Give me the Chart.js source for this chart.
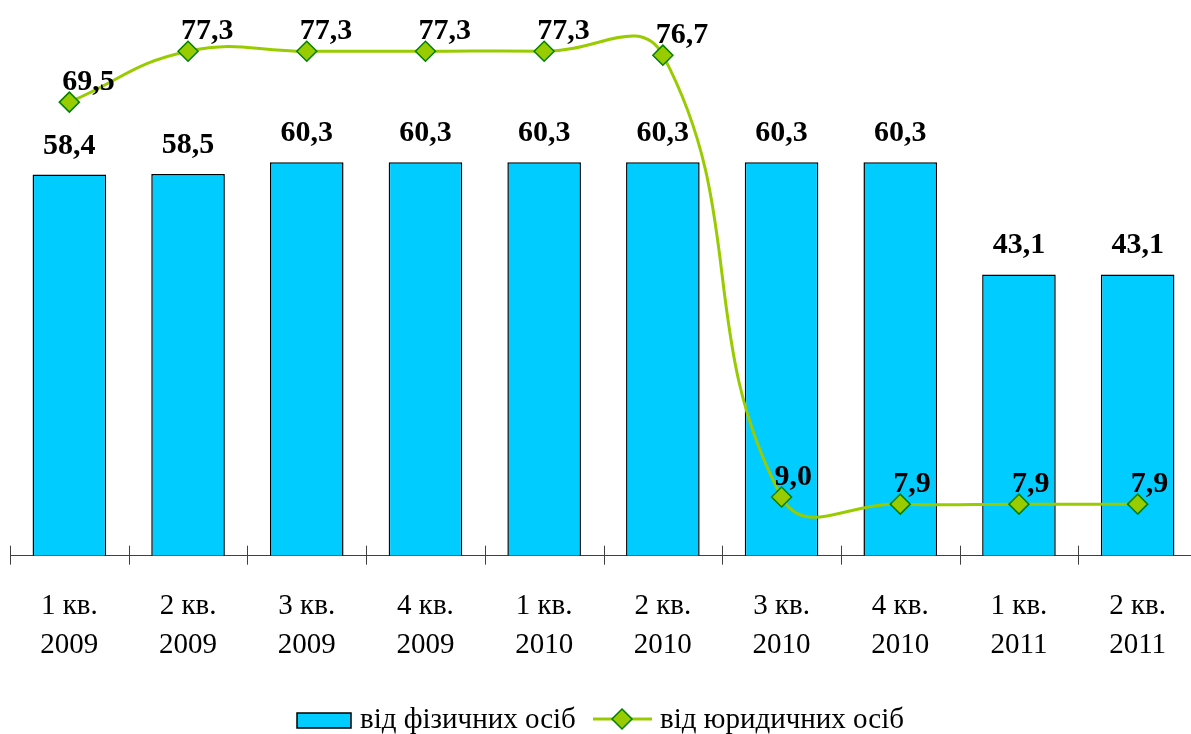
<!DOCTYPE html>
<html>
<head>
<meta charset="utf-8">
<script src="https://cdn.jsdelivr.net/npm/chart.js@4/dist/chart.umd.min.js"></script>
<style>
html,body{margin:0;padding:0;background:#fff;overflow:hidden;}
#wrap{width:1200px;height:734px;position:relative;}
</style>
</head>
<body>
<div id="wrap"><canvas id="c" width="1200" height="734"></canvas></div>
<script>
const quarters = ["1 кв.","2 кв.","3 кв.","4 кв.","1 кв.","2 кв.","3 кв.","4 кв.","1 кв.","2 кв."];
const years = ["2009","2009","2009","2009","2010","2010","2010","2010","2011","2011"];
const fizValues = [58.4,58.5,60.3,60.3,60.3,60.3,60.3,60.3,43.1,43.1];
const yurValues = [69.5,77.3,77.3,77.3,77.3,76.7,9.0,7.9,7.9,7.9];
const seriesNames = ["від фізичних осіб","від юридичних осіб"];

const labels = quarters.map((q,i)=>[q, years[i]]);
const fmt = v => v.toFixed(1).replace('.', ',');
const SERIF = "'Liberation Serif', 'Times New Roman', serif";

const labelPlugin = {
  id: 'valueLabels',
  afterDatasetsDraw(chart){
    const ctx = chart.ctx;
    ctx.save();
    ctx.fillStyle = '#000';
    ctx.font = "bold 30px " + SERIF;
    ctx.textBaseline='alphabetic';
    const barMeta = chart.getDatasetMeta(0);
    barMeta.data.forEach((el,i)=>{
      ctx.textAlign='center';
      ctx.fillText(fmt(fizValues[i]), el.x, el.y - 21);
    });
    const lineMeta = chart.getDatasetMeta(1);
    lineMeta.data.forEach((el,i)=>{
      ctx.textAlign='left';
      ctx.fillText(fmt(yurValues[i]), el.x - 7, el.y - 12);
    });
    ctx.restore();
  },
  afterDraw(chart){
    const ctx = chart.ctx;
    const xs = chart.scales.x;
    const yBottom = chart.chartArea.bottom;
    ctx.save();
    ctx.strokeStyle = '#404040';
    ctx.lineWidth = 1;
    for (let i=0;i<=labels.length;i++){
      const x = Math.round(xs.getPixelForValue(i-0.5))+0.5;
      ctx.beginPath();
      ctx.moveTo(x, yBottom-10);
      ctx.lineTo(x, yBottom+9);
      ctx.stroke();
    }
    // legend
    ctx.fillStyle = '#00CCFF';
    ctx.strokeStyle = '#000';
    ctx.lineWidth = 1.5;
    ctx.fillRect(297, 713, 54, 15);
    ctx.strokeRect(297, 713, 54, 15);
    ctx.fillStyle = '#000';
    ctx.font = "29px " + SERIF;
    ctx.textAlign = 'left'; ctx.textBaseline = 'alphabetic';
    ctx.fillText(seriesNames[0], 360, 728);
    ctx.strokeStyle = '#99CC00';
    ctx.lineWidth = 3;
    ctx.beginPath(); ctx.moveTo(593, 719); ctx.lineTo(652, 719); ctx.stroke();
    ctx.fillStyle = '#99CC00';
    ctx.strokeStyle = '#008000';
    ctx.lineWidth = 1.5;
    ctx.beginPath();
    ctx.moveTo(622, 709); ctx.lineTo(632, 719); ctx.lineTo(622, 729); ctx.lineTo(612, 719); ctx.closePath();
    ctx.fill(); ctx.stroke();
    ctx.fillStyle = '#000';
    ctx.fillText(seriesNames[1], 660, 728);
    ctx.restore();
  }
};

new Chart(document.getElementById('c'), {
  data: {
    labels: labels,
    datasets: [
      {
        type: 'bar',
        label: seriesNames[0],
        data: fizValues,
        backgroundColor: '#00CCFF',
        borderColor: '#000000',
        borderWidth: 1.5,
        categoryPercentage: 1.0,
        barPercentage: 0.62,
        order: 1
      },
      {
        type: 'line',
        label: seriesNames[1],
        data: yurValues,
        borderColor: '#99CC00',
        borderWidth: 3,
        tension: 0.45,
        pointStyle: 'rectRot',
        pointRadius: 10,
        pointBackgroundColor: '#99CC00',
        pointBorderColor: '#008000',
        pointBorderWidth: 1.5,
        order: 0
      }
    ]
  },
  options: {
    responsive: false,
    animation: false,
    layout: { autoPadding: false, padding: { left: 10, right: 3, top: 1, bottom: 38 } },
    plugins: { legend: { display: false }, tooltip: { enabled: false } },
    scales: {
      x: {
        offset: true,
        grid: { display: true, drawOnChartArea: false, drawTicks: false, color: 'rgba(0,0,0,0)' },
        border: { display: true, color: '#404040', width: 1 },
        ticks: { color: '#000', font: { family: SERIF, size: 29, lineHeight: 1.35 }, padding: 31, maxRotation: 0, autoSkip: false }
      },
      y: {
        display: false,
        min: 0, max: 85
      }
    }
  },
  plugins: [labelPlugin]
});
</script>
</body>
</html>
